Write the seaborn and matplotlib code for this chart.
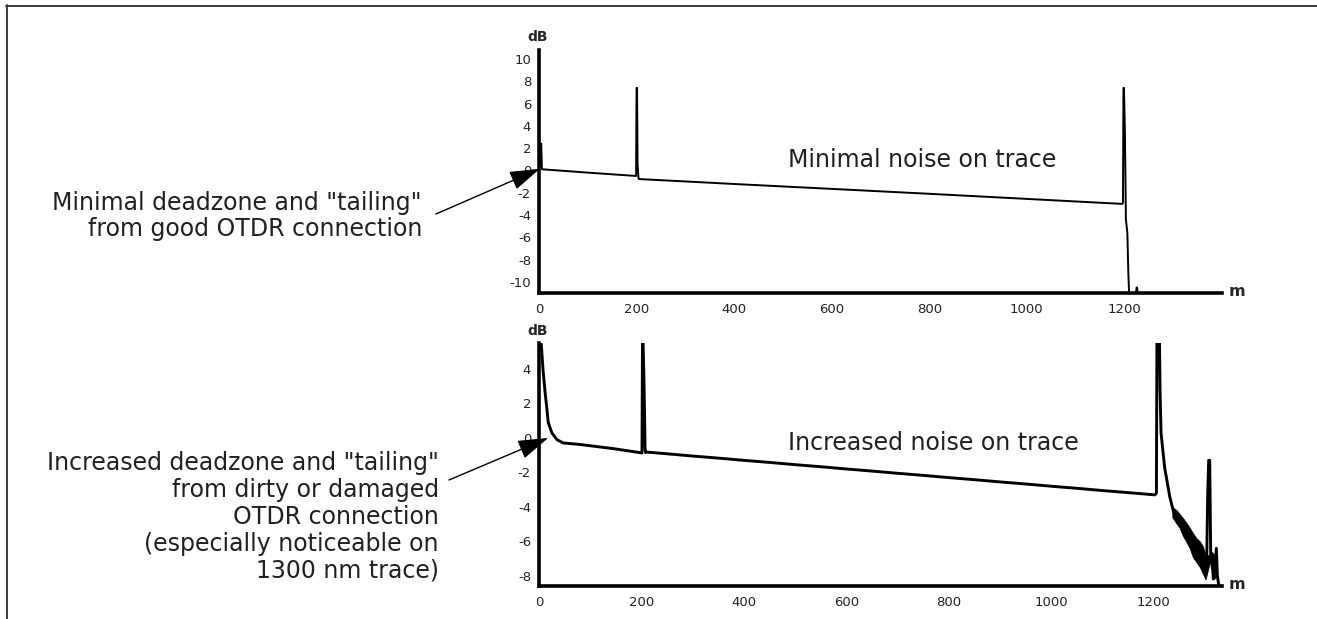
import matplotlib

matplotlib.use("Agg")
import matplotlib.pyplot as plt
import seaborn as sns
from matplotlib.lines import Line2D

sns.set_theme(style="white")
plt.rcParams["font.family"] = ["DejaVu Sans"]
plt.rcParams["axes.unicode_minus"] = False

# --- data (distance in m, level in dB) ---
top_x = [0, 2, 3, 4.5, 6, 100, 199, 200, 201, 202, 204, 206, 400, 800,
         1193, 1196, 1197, 1198, 1199, 1201, 1203, 1206, 1208, 1210, 1212,
         1222, 1225, 1226, 1228]
top_y = [0.3, 0.4, 2.4, 2.4, 0.1, -0.2, -0.5, 7.4, 7.4, 0.6, -0.75, -0.78, -1.22, -2.1,
         -3.0, -3.0, -2.9, 7.4, 7.4, 3.4, -4.4, -5.6, -9.2, -11.5, -11.5,
         -11.5, -10.5, -10.5, -11.5]

bot_x = [2, 4, 8, 12, 15, 18, 25, 35, 47, 80, 145, 201, 202, 203, 205, 207, 208, 210,
         250, 300, 350, 400, 450, 500, 550, 600, 650, 700, 750, 800, 850, 900, 950,
         1000, 1050, 1100, 1150, 1202, 1205, 1206, 1211, 1212, 1214, 1221, 1231, 1239,
         1257, 1276, 1296, 1301, 1303, 1305, 1307, 1309, 1311, 1314, 1318, 1322, 1324, 1328]
bot_y = [5.6, 5.6, 3.9, 2.6, 1.8, 0.9, 0.3, -0.1, -0.29, -0.38, -0.62, -0.87, 5.6, 5.6, 3.2, -0.6, -0.85, -0.82,
         -0.92, -1.05, -1.17, -1.3, -1.42, -1.55, -1.67, -1.8, -1.92, -2.05, -2.17, -2.3, -2.42, -2.55, -2.67,
         -2.8, -2.92, -3.05, -3.17, -3.3, -3.2, 5.6, 5.6, 2.9, 0.3, -1.7, -3.4, -4.35,
         -5.1, -6.1, -7.0, -7.9, -7.4, -3.4, -1.3, -1.3, -6.9, -7.5, -7.8, -6.4, -8.0, -8.8]

# noisy tail envelope on the dirty trace
tail_x = [1236, 1245, 1250, 1257, 1263, 1270, 1276, 1283, 1290, 1296, 1301,
          1311, 1313, 1316, 1320]
tail_lo = [-4.6, -5.0, -5.2, -5.7, -6.0, -6.4, -6.9, -7.2, -7.5, -7.9, -8.2,
           -7.0, -8.2, -8.2, -8.1]
tail_hi = [-4.0, -4.2, -4.4, -4.65, -4.9, -5.2, -5.5, -5.8, -6.0, -6.3, -6.8,
           -6.8, -6.6, -6.7, -6.9]

x_ticks = [0, 100, 200, 300, 400, 500, 600, 700, 800, 900, 1000, 1100, 1200, 1300]
x_tick_labels = ["0", "", "200", "", "400", "", "600", "", "800", "", "1000", "", "1200", ""]
top_y_ticks = [-10, -8, -6, -4, -2, 0, 2, 4, 6, 8, 10]
bot_y_ticks = [-8, -6, -4, -2, 0, 2, 4]

top_note = 'Minimal deadzone and "tailing"\nfrom good OTDR connection'
bot_note = ('Increased deadzone and "tailing"\nfrom dirty or damaged\nOTDR connection\n'
            '(especially noticeable on\n1300 nm trace)')
top_label = "Minimal noise on trace"
bot_label = "Increased noise on trace"

# --- layout in pixels of the 1317x619 canvas ---
W, H = 1317, 619


def fx(px):
    return px / W


def fy(py):
    return 1 - py / H


fig = plt.figure(figsize=(W / 100, H / 100), dpi=100)
ax_top = fig.add_axes([fx(539), fy(293), (1222 - 539) / W, (293 - 50) / H])
ax_bot = fig.add_axes([fx(539), fy(586), (1222 - 539) / W, (586 - 343) / H])

sns.lineplot(x=top_x, y=top_y, sort=False, estimator=None, color="black", linewidth=1.4, ax=ax_top)
sns.lineplot(x=bot_x, y=bot_y, sort=False, estimator=None, color="black", linewidth=2.1, ax=ax_bot)
ax_bot.fill_between(tail_x, tail_lo, tail_hi, color="black", linewidth=0.5)

ax_top.set_xlim(0, 1400)
ax_top.set_ylim(-11, 10.8)
ax_bot.set_xlim(0, 1333)
ax_bot.set_ylim(-8.58, 5.5)

for ax, yt in [(ax_top, top_y_ticks), (ax_bot, bot_y_ticks)]:
    sns.despine(ax=ax)
    for side in ["left", "bottom"]:
        ax.spines[side].set_linewidth(2.6)
        ax.spines[side].set_color("black")
    ax.set_xticks(x_ticks)
    ax.set_xticklabels(x_tick_labels)
    ax.set_yticks(yt)
    ax.set_yticklabels([str(v) for v in yt])
    ax.tick_params(direction="inout", length=8.5, width=0.8, color="black",
                   labelcolor="#222222", labelsize=9.5)
    ax.tick_params(axis="x", pad=3)
    ax.tick_params(axis="y", pad=1.5)
    ax.set_xlabel("")
    ax.set_ylabel("")
    ax.grid(False)
    ax.patch.set_alpha(0)

# unit labels
fig.text(fx(538), fy(41), "dB", ha="center", va="baseline", fontsize=10, fontweight="bold")
fig.text(fx(538), fy(335), "dB", ha="center", va="baseline", fontsize=10, fontweight="bold")
fig.text(fx(1229), fy(296), "m", ha="left", va="baseline", fontsize=11.5, fontweight="bold")
fig.text(fx(1229), fy(589), "m", ha="left", va="baseline", fontsize=11.5, fontweight="bold")

# trace captions
txt_color = "#231f20"
fig.text(fx(788), fy(167), top_label, ha="left", va="baseline", fontsize=17, color=txt_color)
fig.text(fx(788), fy(450), bot_label, ha="left", va="baseline", fontsize=17, color=txt_color)

# callouts
fig.text(fx(422), fy(216), top_note, ha="right", va="center", multialignment="right",
         fontsize=17, color=txt_color, linespacing=1.15)
fig.text(fx(439), fy(517), bot_note, ha="right", va="center", multialignment="right",
         fontsize=17, color=txt_color, linespacing=1.15)

arrow = dict(arrowstyle="-|>,head_length=0.95,head_width=0.3", mutation_scale=20,
             color="black", lw=1.0, shrinkA=0, shrinkB=0)
ax_top.annotate("", xy=(2, 0.15), xycoords="data", xytext=(fx(436), fy(214)),
                textcoords="figure fraction", arrowprops=arrow, annotation_clip=False)
ax_bot.annotate("", xy=(18, 0.0), xycoords="data", xytext=(fx(449), fy(480)),
                textcoords="figure fraction", arrowprops=arrow, annotation_clip=False)

# frame (top and left edges only)
frame_kw = dict(transform=fig.transFigure, color="#3a3a3a", linewidth=1.4)
fig.add_artist(Line2D([fx(6), 1], [fy(5.5), fy(5.5)], **frame_kw))
fig.add_artist(Line2D([fx(6.5), fx(6.5)], [fy(5), 0], **frame_kw))

fig.savefig("out.png", dpi=100)
plt.close(fig)
